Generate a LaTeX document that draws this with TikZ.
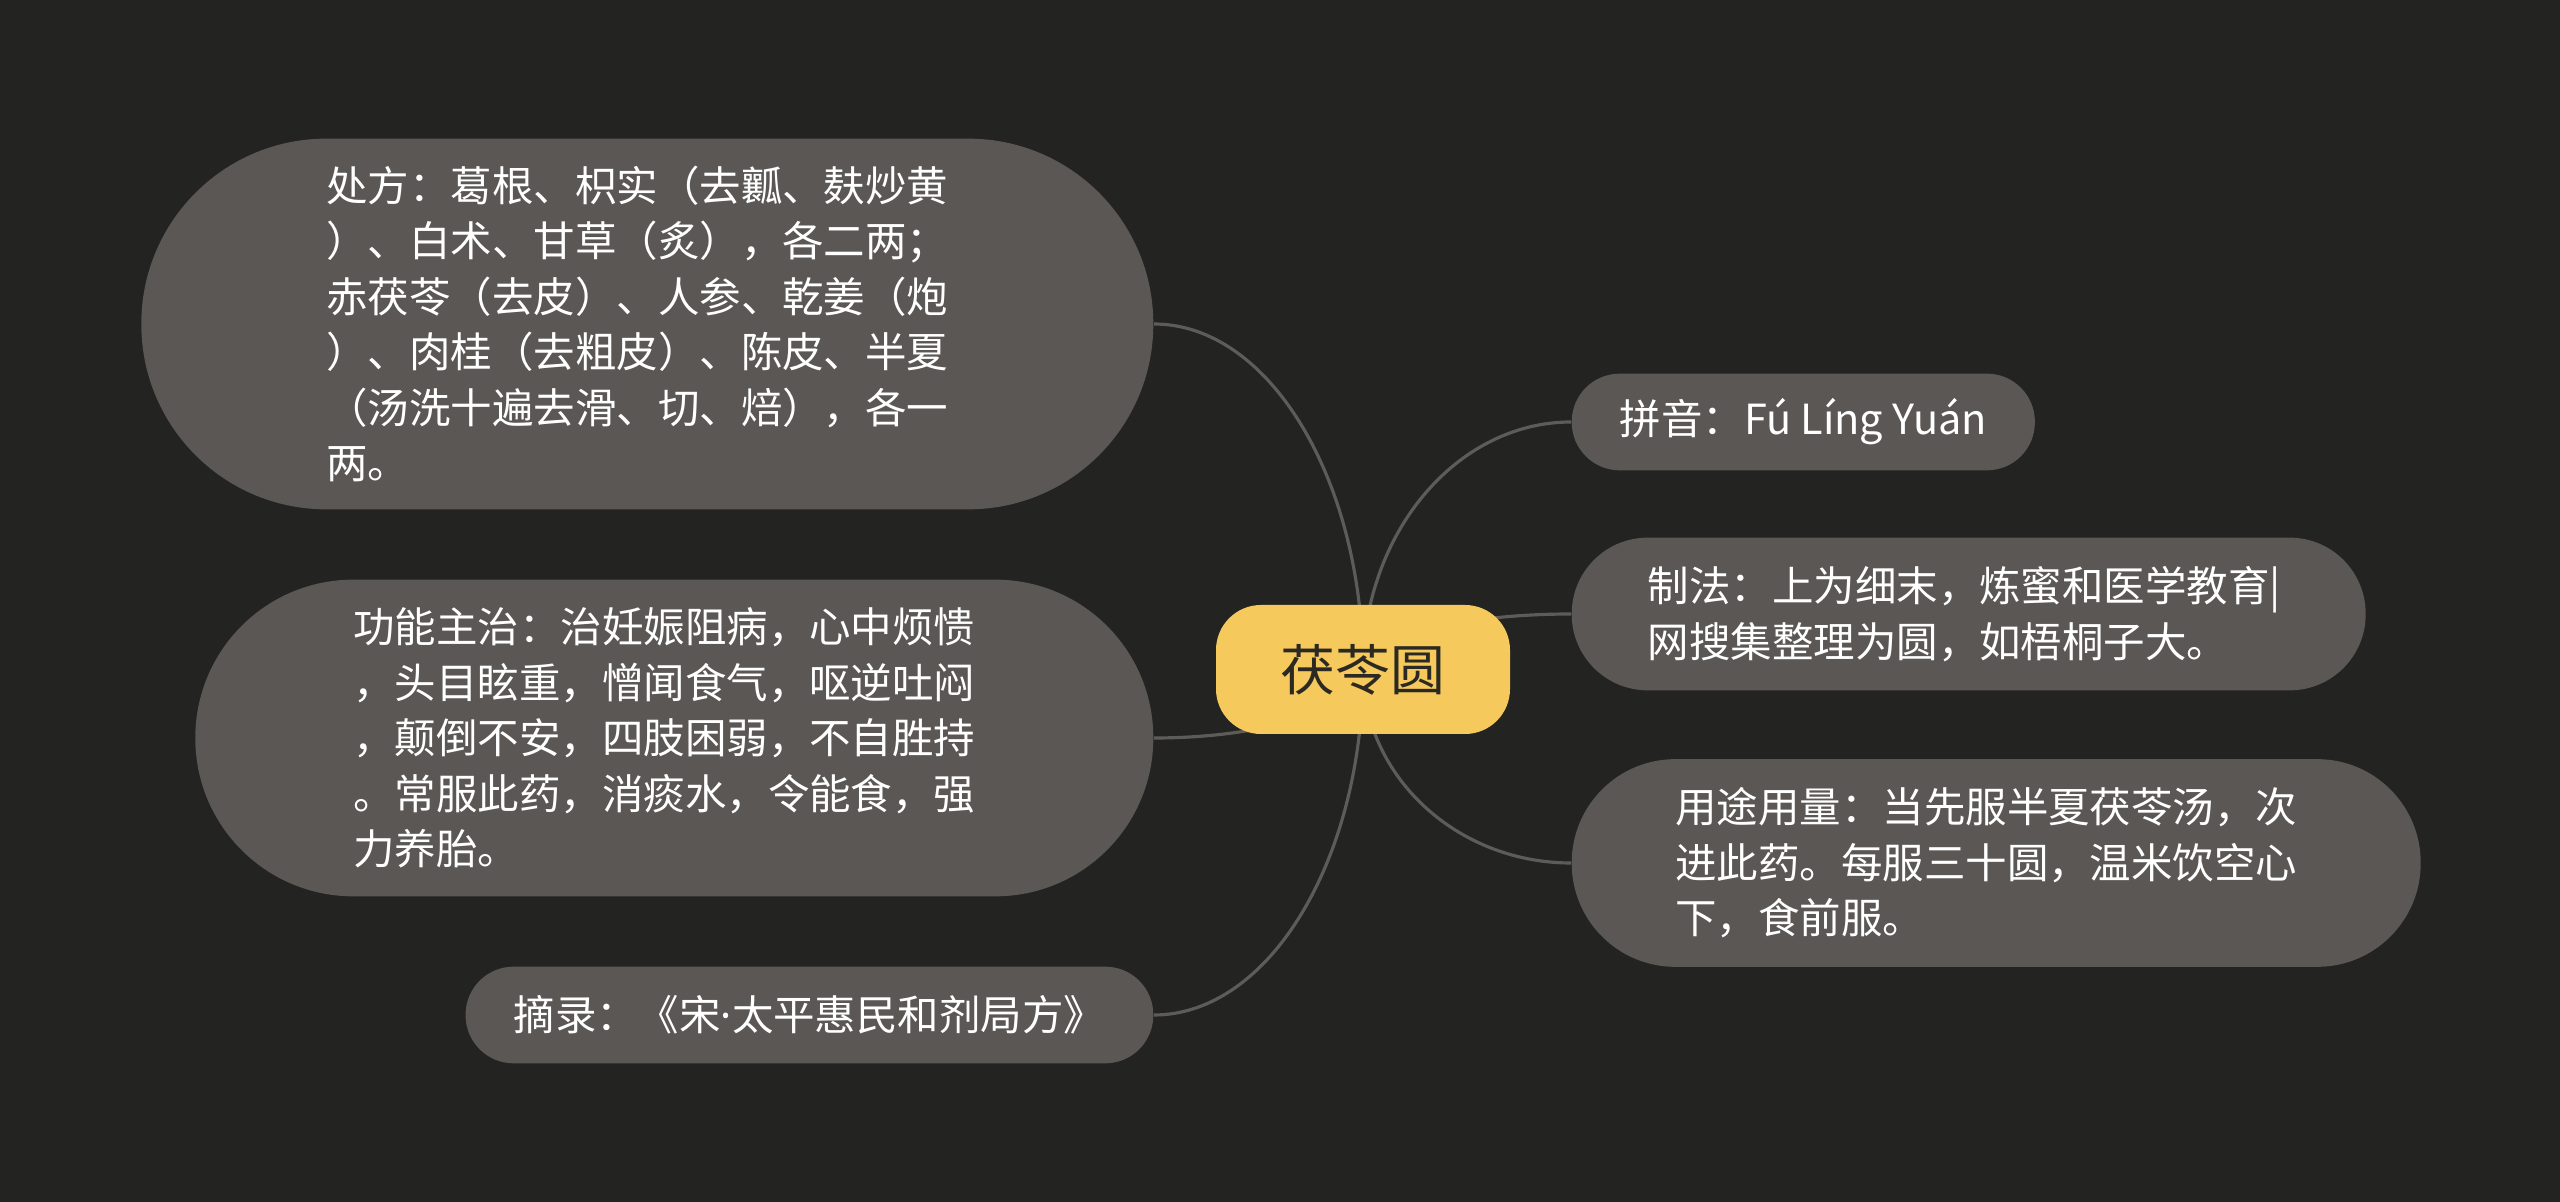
\documentclass[tikz,border=0pt]{standalone}
\usepackage{fontspec}
\newfontfamily\zhfont{Noto Sans CJK SC}
\newfontfamily\dotfont{Noto Sans}
\usetikzlibrary{calc}

\definecolor{bgdark}{HTML}{232321}
\definecolor{leaffill}{HTML}{5A5754}
\definecolor{linegray}{HTML}{5E5C59}
\definecolor{topicfill}{HTML}{F5C95C}
\definecolor{topictext}{HTML}{2B2922}

\pgfdeclarelayer{fondo}
\pgfdeclarelayer{ramas}
\pgfsetlayers{fondo,ramas,main}

\begin{document}
\begin{tikzpicture}[
  tnode/.style={rectangle, rounded corners=4.5mm, fill=topicfill, text=topictext, minimum width=2.94cm, minimum height=1.29cm, font=\zhfont\fontsize{15.6pt}{18pt}\selectfont},
  snode/.style={rectangle, rounded corners=#1, fill=leaffill, text=white, inner xsep=#1, inner ysep=0pt, minimum height=2*#1+0.2pt, align=left, font=\zhfont\fontsize{11.8pt}{15.8pt}\selectfont},
  wnode/.style={snode=#1, text width=6.42cm},
  link/.style={draw=linegray, line width=0.9pt, to path={.. controls ($(\tikztostart)!0.55!(\tikztostart |- \tikztotarget)$) and ($(\tikztotarget)!0.55!(\tikztostart |- \tikztotarget)$) .. (\tikztotarget)}}
]
  \useasboundingbox (0,0) rectangle (25.6,-12.02);
  \begin{pgfonlayer}{fondo}
    \fill[bgdark] (0,0) rectangle (25.6,-12.02);
  \end{pgfonlayer}

  % Tema central
  \node[tnode] (t) at (13.63,-6.695) {茯苓圆};

  % Ramas de la izquierda
  \node[wnode=1.85cm, anchor=east] (s1) at (11.54,-3.24)
    {处方：葛根、枳实（去瓤、麸炒黄\\）、白术、甘草（炙），各二两；\\赤茯苓（去皮）、人参、乾姜（炮\\）、肉桂（去粗皮）、陈皮、半夏\\（汤洗十遍去滑、切、焙），各一\\两。};
  \node[wnode=1.58cm, anchor=east] (s2) at (11.54,-7.38)
    {功能主治：治妊娠阻病，心中烦愦\\，头目眩重，憎闻食气，呕逆吐闷\\，颠倒不安，四肢困弱，不自胜持\\。常服此药，消痰水，令能食，强\\力养胎。};
  \node[snode=0.48cm, anchor=east] (s3) at (11.54,-10.15)
    {摘录：《宋{\dotfont ·}太平惠民和剂局方》};

  % Ramas de la derecha
  \node[snode=0.48cm, anchor=west] (s4) at (15.71,-4.22)
    {拼音：Fú Líng Yuán};
  \node[wnode=0.76cm, anchor=west] (s5) at (15.71,-6.14)
    {制法：上为细末，炼蜜和医学教育|\\网搜集整理为圆，如梧桐子大。};
  \node[wnode=1.035cm, anchor=west] (s6) at (15.71,-8.63)
    {用途用量：当先服半夏茯苓汤，次\\进此药。每服三十圆，温米饮空心\\下，食前服。};

  % Conectores desde el centro
  \begin{pgfonlayer}{ramas}
    \draw[link] (t.center) to (s1.east);
    \draw[link] (t.center) to (s2.east);
    \draw[link] (t.center) to (s3.east);
    \draw[link] (t.center) to (s4.west);
    \draw[link] (t.center) to (s5.west);
    \draw[link] (t.center) to (s6.west);
  \end{pgfonlayer}
\end{tikzpicture}
\end{document}
